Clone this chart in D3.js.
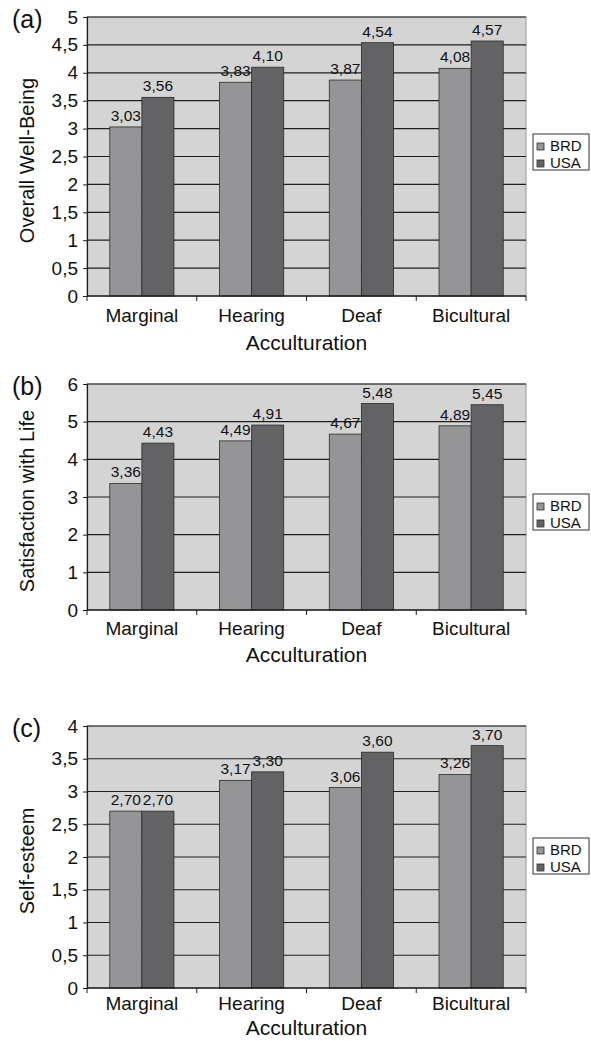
<!DOCTYPE html>
<html><head><meta charset="utf-8">
<script src="https://cdn.jsdelivr.net/npm/d3@7"></script>
<style>body{margin:0;background:#fff}svg{display:block;font-family:"Liberation Sans",Arial,sans-serif}</style>
</head><body><svg id="c" width="591" height="1041"></svg>
<script>
const categories = ["Marginal","Hearing","Deaf","Bicultural"];
const seriesNames = ["BRD","USA"];
const wellBeingBRD = [3.03,3.83,3.87,4.08];
const wellBeingUSA = [3.56,4.10,4.54,4.57];
const satisfactionBRD = [3.36,4.49,4.67,4.89];
const satisfactionUSA = [4.43,4.91,5.48,5.45];
const selfEsteemBRD = [2.70,3.17,3.06,3.26];
const selfEsteemUSA = [2.70,3.30,3.60,3.70];
const ticksA = [0,0.5,1,1.5,2,2.5,3,3.5,4,4.5,5];
const ticksB = [0,1,2,3,4,5,6];
const ticksC = [0,0.5,1,1.5,2,2.5,3,3.5,4];

const colors = {BRD:"#959597", USA:"#636365"};
const svg = d3.select("#c");
const L = 87, R = 526;
const fmt = v => String(v).replace(".", ",");
const fmt2 = v => v.toFixed(2).replace(".", ",");

const panels = [
  {tag:"(a)", title:"Overall Well-Being", top:17, bottom:296, ticks:ticksA, brd:wellBeingBRD, usa:wellBeingUSA, leg:134, catY:26, titY:54},
  {tag:"(b)", title:"Satisfaction with Life", top:384, bottom:610, ticks:ticksB, brd:satisfactionBRD, usa:satisfactionUSA, leg:494, catY:25, titY:52},
  {tag:"(c)", title:"Self-esteem", top:726, bottom:988, ticks:ticksC, brd:selfEsteemBRD, usa:selfEsteemUSA, leg:838, catY:22, titY:47}
];

panels.forEach(p => {
  const g = svg.append("g");
  const y = d3.scaleLinear().domain([0, d3.max(p.ticks)]).range([p.bottom, p.top]);
  const x0 = d3.scaleBand().domain(categories).range([L, R]).paddingInner(0).paddingOuter(0);
  const x1 = d3.scaleBand().domain(seriesNames).range([0, x0.bandwidth()]).paddingInner(0).paddingOuter(0.71);
  g.append("rect").attr("x", L).attr("y", p.top).attr("width", R-L).attr("height", p.bottom-p.top)
    .attr("fill", "#d4d4d5").attr("stroke", "#9a9a9a").attr("stroke-width", 1);
  g.selectAll(".grid").data(p.ticks.filter(t => t > 0)).join("line")
    .attr("x1", L).attr("x2", R).attr("y1", d => y(d)).attr("y2", d => y(d))
    .attr("stroke", "#1e1e1e").attr("stroke-width", 1.2);
  const rows = categories.map((c,i) => ({c, vals:[{s:"BRD", v:p.brd[i]},{s:"USA", v:p.usa[i]}]}));
  const grp = g.selectAll(".grp").data(rows).join("g").attr("transform", d => `translate(${x0(d.c)},0)`);
  grp.selectAll("rect").data(d => d.vals).join("rect")
    .attr("x", d => x1(d.s)).attr("width", x1.bandwidth())
    .attr("y", d => y(d.v)).attr("height", d => y(0) - y(d.v))
    .attr("fill", d => colors[d.s]).attr("stroke", "#2a2a2a").attr("stroke-width", 0.8);
  grp.selectAll("text").data(d => d.vals).join("text")
    .attr("x", d => x1(d.s) + x1.bandwidth()/2).attr("y", d => y(d.v) - 6)
    .attr("text-anchor", "middle").attr("font-size", 15.5).attr("fill", "#111")
    .text(d => fmt2(d.v));
  const ya = g.append("g").attr("transform", `translate(${L},0)`)
    .call(d3.axisLeft(y).tickValues(p.ticks).tickFormat(fmt).tickSize(4).tickPadding(5));
  ya.select(".domain").attr("stroke", "#1e1e1e").attr("stroke-width", 1.2);
  ya.selectAll(".tick line").attr("stroke", "#1e1e1e");
  ya.selectAll("text").attr("font-size", 19).attr("fill", "#111").attr("font-family", "Liberation Sans, Arial, sans-serif");
  const xa = g.append("g").attr("transform", `translate(0,${p.bottom})`)
    .call(d3.axisBottom(x0).tickSize(0).tickPadding(0));
  xa.select(".domain").remove();
  xa.selectAll("text").attr("font-size", 19).attr("fill", "#111").attr("dy", 0).attr("y", p.catY)
    .attr("font-family", "Liberation Sans, Arial, sans-serif");
  g.append("line").attr("x1", L).attr("x2", R).attr("y1", p.bottom).attr("y2", p.bottom)
    .attr("stroke", "#1e1e1e").attr("stroke-width", 1.3);
  const bounds = categories.map(c => x0(c)).concat([R]);
  g.selectAll(".xt").data(bounds).join("line")
    .attr("x1", d => d).attr("x2", d => d).attr("y1", p.bottom).attr("y2", p.bottom + 5)
    .attr("stroke", "#1e1e1e");
  g.append("text").attr("x", (L+R)/2).attr("y", p.bottom + p.titY).attr("text-anchor", "middle")
    .attr("font-size", 21).attr("fill", "#111").text("Acculturation");
  g.append("text").attr("transform", `translate(34,${(p.top+p.bottom)/2 + 4}) rotate(-90)`)
    .attr("text-anchor", "middle").attr("font-size", 20).attr("fill", "#111").text(p.title);
  g.append("text").attr("x", 12).attr("y", p.top + 11).attr("font-size", 25).attr("fill", "#111").text(p.tag);
  const lg = g.append("g").attr("transform", `translate(533,${p.leg})`);
  lg.append("rect").attr("width", 56).attr("height", 36).attr("fill", "#fff").attr("stroke", "#333").attr("stroke-width", 1);
  seriesNames.forEach((s,i) => {
    lg.append("rect").attr("x", 4).attr("y", 9 + i*17).attr("width", 7).attr("height", 7)
      .attr("fill", colors[s]).attr("stroke", "#333").attr("stroke-width", 0.8);
    lg.append("text").attr("x", 17).attr("y", 17 + i*17).attr("font-size", 15).attr("fill", "#111").text(s);
  });
});
</script></body></html>
